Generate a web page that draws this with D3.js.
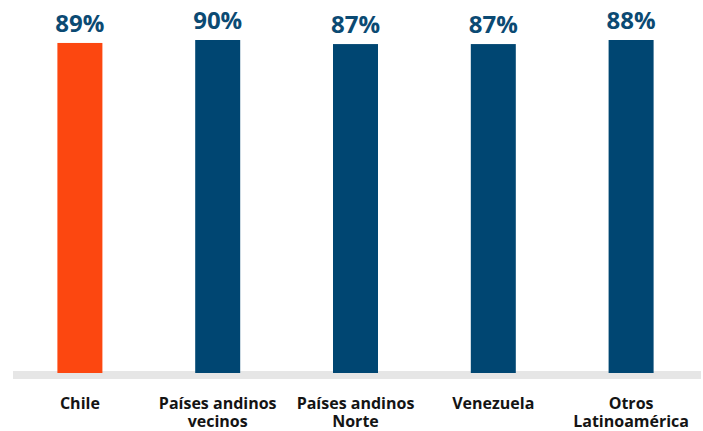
<!DOCTYPE html>
<html><head><meta charset="utf-8">
<script src="https://cdn.jsdelivr.net/npm/d3@7"></script>
<style>body{margin:0;background:#fff}svg{display:block}</style>
</head><body>
<script>
const categories = [["Chile"], ["Países andinos", "vecinos"], ["Países andinos", "Norte"], ["Venezuela"], ["Otros", "Latinoamérica"]];
const values = [89.2, 90.0, 88.9, 88.9, 90.0];
const labels = ["89%", "90%", "87%", "87%", "88%"];
const colors = ["#FC4710", "#004672", "#004672", "#004672", "#004672"];

const W = 703, H = 431;
const svg = d3.select("body").append("svg").attr("width", W).attr("height", H);
const idx = d3.range(categories.length);
const x = d3.scalePoint().domain(idx).range([11, 700]).padding(0.5);
const y = d3.scaleLinear().domain([0, 90]).range([373, 40]);
const bw = 45;

svg.append("rect").attr("x", 13).attr("y", 371).attr("width", 688).attr("height", 8).attr("fill", "#e6e6e6");

svg.selectAll("rect.bar").data(idx).join("rect").attr("class", "bar")
  .attr("x", i => x(i) - bw / 2).attr("width", bw)
  .attr("y", i => y(values[i])).attr("height", i => y(0) - y(values[i]))
  .attr("fill", i => colors[i]);

svg.selectAll("text.val").data(idx).join("text").attr("class", "val")
  .attr("x", i => x(i)).attr("y", i => y(values[i]) - 11)
  .attr("text-anchor", "middle")
  .attr("font-family", "Open Sans").attr("font-weight", 700).attr("font-size", 24)
  .attr("fill", "#0b4a73").text(i => labels[i]);

const cat = svg.selectAll("text.cat").data(idx).join("text").attr("class", "cat")
  .attr("text-anchor", "middle")
  .attr("font-family", "Open Sans").attr("font-weight", 700).attr("font-size", 16)
  .attr("fill", "#141414");
cat.selectAll("tspan").data(i => categories[i].map(t => ({t, i}))).join("tspan")
  .attr("x", d => x(d.i)).attr("y", (d, k) => 409 + k * 18).text(d => d.t);
</script>
</body></html>
